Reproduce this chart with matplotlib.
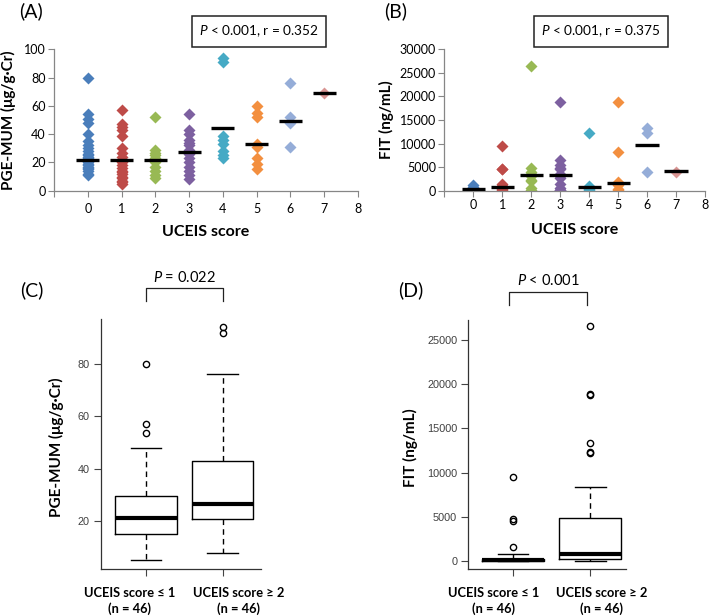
import matplotlib
matplotlib.use("Agg")
import matplotlib.pyplot as plt
import numpy as np

plt.rcParams['font.family'] = ['Lato', 'DejaVu Sans']
plt.rcParams['mathtext.fontset'] = 'custom'
plt.rcParams['mathtext.rm'] = 'Lato'
plt.rcParams['mathtext.it'] = 'Lato:italic'

# ---- data: scatter panels (UCEIS score 0..7) ----
scores = [0, 1, 2, 3, 4, 5, 6, 7]
score_colors = ['#4a7ebb', '#be4b48', '#98b954', '#7d60a0', '#46aac5', '#f38f3f', '#95add8', '#d99593']

pge_by_score = [
    [80, 54, 51, 48, 40, 35, 32, 30, 28, 26, 25, 24, 23, 22, 21, 20, 19, 18, 17, 16, 15, 14, 12, 11],
    [57, 47, 45, 43, 39, 30, 27, 24, 22, 21, 21, 20, 18, 16, 14, 13, 12, 10, 9, 7, 6, 5],
    [52, 29, 27, 25, 23, 22, 20, 17, 14, 11, 9],
    [54, 43, 40, 36, 34, 32, 29, 26, 23, 20, 17, 14, 11, 8],
    [94, 91, 39, 36, 33, 28, 25, 23],
    [60, 55, 52, 33, 31, 23, 19, 15],
    [76, 52, 48, 31],
    [69],
]
pge_lines = [22, 21.5, 22, 27.3, 44, 33, 49.6, 69.2]

fit_by_score = [
    [1300, 800, 600, 500, 450, 400, 380, 350, 300, 250, 200, 150, 100, 50, 0],
    [9500, 4600, 4500, 1500, 1000, 900, 800, 700, 700, 600, 300, 100, 0],
    [26500, 4800, 4000, 3500, 3300, 3200, 2200, 2000, 500, 100, 0],
    [18900, 6600, 5500, 4800, 4500, 3500, 3300, 3100, 2800, 1500, 500, 200, 100, 0],
    [12200, 900, 700, 700, 600, 300, 100, 0],
    [18900, 8300, 1800, 1700, 1500, 1200, 300, 100],
    [13400, 12200, 4000],
    [3900],
]
fit_lines = [400, 750, 3300, 3300, 750, 1600, 9800, 4150]

# ---- data: box plots ----
group_labels = ['UCEIS score ≤ 1\n(n = 46)', 'UCEIS score ≥ 2\n(n = 46)']
pge_box = dict(whislo=[5.2, 8.0], q1=[15.1, 21.0], med=[21.1, 26.6], q3=[29.5, 43.1], whishi=[48.1, 76.2])
pge_fliers = [[53.8, 57.1, 79.9], [91.7, 94.2]]
fit_box = dict(whislo=[0, 20], q1=[0, 160], med=[100, 760], q3=[200, 4890], whishi=[730, 8410])
fit_fliers = [[1520, 4550, 4700, 9510], [12200, 12320, 13375, 18830, 18940, 26590]]

W, H = 709, 616
fig = plt.figure(figsize=(W / 100, H / 100), dpi=100)


def px_axes(l, t, r, b):
    return fig.add_axes([l / W, 1 - b / H, (r - l) / W, (b - t) / H])


gray = '#868686'


def scatter_panel(ax, data, lines, halfw, yticks, ylabel, pad, ylab_x, xlab_y):
    for s, vals, c in zip(scores, data, score_colors):
        ax.plot(np.full(len(vals), s), vals, 'D', color=c, ms=6.0, mec='none', zorder=2)
    ax.hlines(lines, np.array(scores) - halfw, np.array(scores) + halfw, color='black', lw=2.4, zorder=3)
    ax.set_xlim(-1, 8)
    ax.set_ylim(yticks[0], yticks[-1])
    ax.set_xticks(range(-1, 9))
    ax.set_xticklabels([''] + [str(i) for i in range(9)])
    ax.set_yticks(yticks)
    for sp in ['top', 'right']:
        ax.spines[sp].set_visible(False)
    for sp in ['left', 'bottom']:
        ax.spines[sp].set_color(gray)
        ax.spines[sp].set_linewidth(0.9)
    ax.tick_params(axis='x', direction='out', length=4, color=gray, labelsize=9, pad=pad)
    ax.tick_params(axis='y', direction='out', length=4, color=gray, labelsize=9, pad=2)
    ax.set_xlabel('UCEIS score', fontsize=11.5, fontweight='bold', va='center')
    ax.set_ylabel(ylabel, fontsize=11, fontweight='bold', va='center')
    ax.yaxis.set_label_coords(ylab_x, 0.5)
    ax.xaxis.set_label_coords(0.5, xlab_y)


axA = px_axes(54, 49.3, 358, 190.7)
scatter_panel(axA, pge_by_score, pge_lines, 0.34, [0, 20, 40, 60, 80, 100], 'PGE-MUM (μg/g·Cr)', 5, -0.151, -0.29)
axB = px_axes(444.3, 49.3, 705, 190.7)
scatter_panel(axB, fit_by_score, fit_lines, 0.40, [0, 5000, 10000, 15000, 20000, 25000, 30000], 'FIT (ng/mL)', 2, -0.22, -0.28)

# annotation boxes
for cx, txt in [(259, r'$\it{P}$ < 0.001, r = 0.352'), (601, r'$\it{P}$ < 0.001, r = 0.375')]:
    fig.text(cx / W, 1 - 31.5 / H, txt, ha='center', va='center', fontsize=9.8,
             bbox=dict(boxstyle='square,pad=0.55', fc='white', ec='#222222', lw=1.1))

# panel letters
for x, y, t in [(31, 11, '(A)'), (396, 11, '(B)'), (32, 290, '(C)'), (411, 290, '(D)')]:
    fig.text(x / W, 1 - y / H, t, ha='center', va='center', fontsize=14)


def box_panel(ax, st, fliers, ylim, xlim, yticks, ylabel, ylab_x):
    stats = []
    for i in range(2):
        stats.append(dict(whislo=st['whislo'][i], q1=st['q1'][i], med=st['med'][i],
                          q3=st['q3'][i], whishi=st['whishi'][i], fliers=fliers[i]))
    ax.bxp(stats, positions=[1, 2], widths=0.8, capwidths=0.4,
           boxprops=dict(color='black', lw=1.0),
           medianprops=dict(color='black', lw=3.0, solid_capstyle='butt'),
           whiskerprops=dict(color='black', lw=1.0, linestyle=(0, (4, 3))),
           capprops=dict(color='black', lw=1.0),
           flierprops=dict(marker='o', ms=4.5, mfc='none', mec='black', mew=1.0))
    ax.set_xlim(*xlim)
    ax.set_ylim(*ylim)
    ax.set_yticks(yticks)
    ax.set_xticks([1, 2])
    ax.set_xticklabels(['', ''])
    for sp in ['top', 'right']:
        ax.spines[sp].set_visible(False)
    for sp in ['left', 'bottom']:
        ax.spines[sp].set_linewidth(0.9)
        ax.spines[sp].set_color('#333333')
    ax.tick_params(direction='out', length=5, color='#444444', width=0.8)
    ax.tick_params(axis='y', labelsize=7.8, labelcolor='#404040', pad=3)
    for lab in ax.get_yticklabels():
        lab.set_family(['Liberation Sans', 'DejaVu Sans'])
    ax.set_ylabel(ylabel, fontsize=11, fontweight='bold', va='center')
    ax.yaxis.set_label_coords(ylab_x, 0.49)


axC = px_axes(100.7, 319.3, 260.7, 569.3)
box_panel(axC, pge_box, pge_fliers, (1.7, 97), (0.41, 2.495), [20, 40, 60, 80], 'PGE-MUM (μg/g·Cr)', -0.279)
axD = px_axes(468.3, 320, 625.7, 569.3)
box_panel(axD, fit_box, fit_fliers, (-977, 27300), (0.42, 2.46), [0, 5000, 10000, 15000, 20000, 25000], 'FIT (ng/mL)', -0.370)

# group labels under the box plots
for cx, lab in zip([130, 239], group_labels):
    fig.text(cx / W, 1 - 601 / H, lab, ha='center', va='center', fontsize=9.3, fontweight='bold', linespacing=1.4)
for cx, lab in zip([494, 602], group_labels):
    fig.text(cx / W, 1 - 601 / H, lab, ha='center', va='center', fontsize=9.3, fontweight='bold', linespacing=1.4)

# significance brackets
for x1, x2, ytop, ybot, txt in [(146, 222.7, 288.3, 300.7, r'$\it{P}$ = 0.022'),
                                (509, 587.3, 291.7, 305, r'$\it{P}$ < 0.001')]:
    xs = np.array([x1, x1, x2, x2]) / W
    ys = 1 - np.array([ybot, ytop, ytop, ybot]) / H
    fig.add_artist(plt.Line2D(xs, ys, color='#222222', lw=0.9))
    fig.text((x1 + x2) / 2 / W, 1 - (ytop - 11) / H, txt, ha='center', va='center', fontsize=10.5)

fig.savefig('out.png', dpi=100)
